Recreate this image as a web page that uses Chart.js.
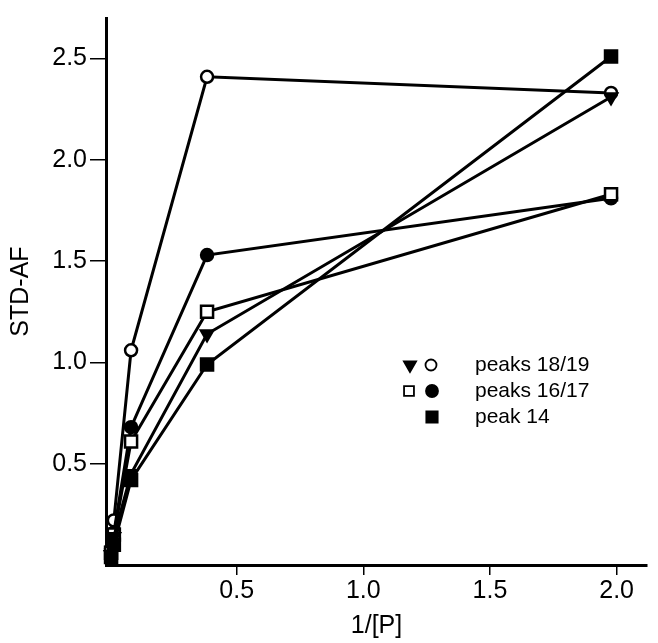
<!DOCTYPE html>
<html>
<head>
<meta charset="utf-8">
<script src="https://cdn.jsdelivr.net/npm/chart.js@4"></script>
<style>
  html, body { margin: 0; padding: 0; background: #fff; }
  #wrap { width: 658px; height: 643px; }
</style>
</head>
<body>
<div id="wrap"><canvas id="STDAF" width="658" height="643"></canvas></div>
<script>
// values
const invP = [0.004, 0.015, 0.083, 0.383, 1.978];
const openCircle = [0.07, 0.22, 1.06, 2.41, 2.33];
const downTriangle = [0.05, 0.14, 0.45, 1.14, 2.31];
const openSquare = [0.06, 0.15, 0.61, 1.25, 1.83];
const filledCircle = [0.08, 0.16, 0.68, 1.53, 1.81];
const filledSquare = [0.04, 0.10, 0.42, 0.99, 2.51];
const xTicks = [0.5, 1.0, 1.5, 2.0];
const yTicks = [0.5, 1.0, 1.5, 2.0, 2.5];
const legendLabels = ["peaks 18/19", "peaks 16/17", "peak 14"];

const FONT = '"Liberation Sans", Arial, sans-serif';

const toPoints = (ys) => ys.map((y, i) => ({ x: invP[i], y: y }));

const makeSet = (label, ys, style, fill, radius, rotation) => ({
  label: label,
  data: toPoints(ys),
  showLine: true,
  borderColor: "#000",
  borderWidth: 3,
  pointStyle: style,
  pointRotation: rotation || 0,
  pointRadius: radius,
  pointBackgroundColor: fill,
  pointBorderColor: "#000",
  pointBorderWidth: 2.5,
  clip: false,
});

// legend with two symbols per row, drawn by hand
const legendPlugin = {
  id: "pairLegend",
  afterDraw(chart) {
    const ctx = chart.ctx;
    const rows = [
      { y: 365, marks: [
        { x: 410, style: "triangle", rotation: 180, radius: 7, fill: "#000" },
        { x: 431, style: "circle", radius: 5.5, fill: "#fff" } ] },
      { y: 391, marks: [
        { x: 409, style: "rect", radius: 7, fill: "#fff" },
        { x: 432, style: "circle", radius: 6, fill: "#000" } ] },
      { y: 417, marks: [
        { x: 432, style: "rect", radius: 8, fill: "#000" } ] },
    ];
    ctx.save();
    rows.forEach((row, i) => {
      row.marks.forEach((m) => {
        ctx.fillStyle = m.fill;
        ctx.strokeStyle = "#000";
        ctx.lineWidth = 1.8;
        Chart.helpers.drawPoint(ctx, {
          pointStyle: m.style,
          rotation: m.rotation || 0,
          radius: m.radius,
          borderWidth: 1.8,
        }, m.x, row.y);
      });
      ctx.fillStyle = "#000";
      ctx.font = "21px " + FONT;
      ctx.textBaseline = "middle";
      ctx.textAlign = "left";
      ctx.fillText(legendLabels[i], 475, row.y);
    });
    ctx.restore();
  },
};

const canvas = document.getElementById("STDAF");

new Chart(canvas.getContext("2d"), {
  type: "scatter",
  data: {
    datasets: [
      makeSet("peak 14", filledSquare, "rect", "#000", 8.5),
      makeSet("peaks 18/19 (triangle)", downTriangle, "triangle", "#000", 7, 180),
      makeSet("peaks 16/17 (open square)", openSquare, "rect", "#fff", 8.5),
      makeSet("peaks 16/17 (filled circle)", filledCircle, "circle", "#000", 6),
      makeSet("peaks 18/19 (open circle)", openCircle, "circle", "#fff", 6),
    ],
  },
  options: {
    responsive: false,
    animation: false,
    layout: { padding: { top: 11, right: 3, left: 0, bottom: 0 } },
    scales: {
      x: {
        type: "linear",
        min: -0.016,
        max: 2.12,
        afterBuildTicks: (scale) => { scale.ticks = xTicks.map((v) => ({ value: v })); },
        afterFit: (scale) => { scale.height = 78; },
        ticks: {
          color: "#000",
          font: { family: FONT, size: 25 },
          padding: 1,
          maxRotation: 0,
          callback: (v) => Number(v).toFixed(1),
        },
        grid: {
          drawOnChartArea: false,
          drawTicks: true,
          tickLength: 10,
          tickColor: "#000",
          lineWidth: 1.5,
        },
        border: { display: true, color: "#000", width: 3 },
        title: {
          display: true,
          text: "1/[P]",
          color: "#000",
          font: { family: FONT, size: 25 },
          padding: { top: 0, bottom: 2 },
        },
      },
      y: {
        type: "linear",
        min: 0,
        max: 2.7,
        afterBuildTicks: (scale) => { scale.ticks = yTicks.map((v) => ({ value: v })); },
        afterFit: (scale) => { scale.width = 106; },
        ticks: {
          color: "#000",
          font: { family: FONT, size: 25 },
          padding: 3,
          callback: (v) => Number(v).toFixed(1),
        },
        grid: {
          drawOnChartArea: false,
          drawTicks: true,
          tickLength: 16,
          tickColor: "#000",
          lineWidth: 1.5,
        },
        border: { display: true, color: "#000", width: 3 },
        title: {
          display: true,
          text: "STD-AF",
          color: "#000",
          font: { family: FONT, size: 25 },
          padding: { top: 6, bottom: 0 },
        },
      },
    },
    plugins: {
      legend: { display: false },
      tooltip: { enabled: false },
    },
  },
  plugins: [legendPlugin],
});
</script>
</body>
</html>
